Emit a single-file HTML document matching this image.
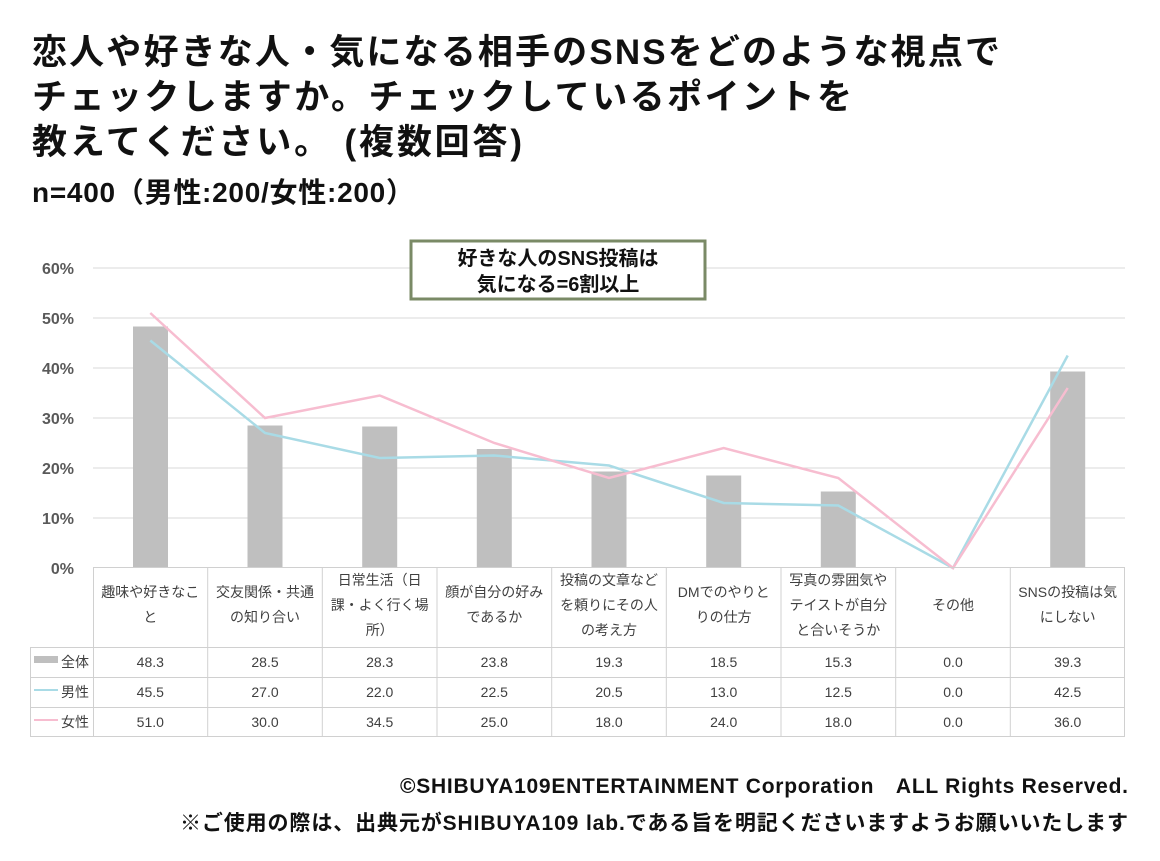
<!DOCTYPE html>
<html><head><meta charset="utf-8"><style>
html,body{margin:0;padding:0;background:#fff;}
body{width:1160px;height:856px;overflow:hidden;}
svg text{font-family:"Liberation Sans","Noto Sans CJK JP",sans-serif;}
</style></head><body>
<svg width="1160" height="856" viewBox="0 0 1160 856" xmlns="http://www.w3.org/2000/svg">
<g font-weight="bold" fill="#111" font-size="35">
<text x="32" y="64" textLength="968" lengthAdjust="spacing">恋人や好きな人・気になる相手のSNSをどのような視点で</text>
<text x="32" y="109" textLength="820" lengthAdjust="spacing">チェックしますか。チェックしているポイントを</text>
<text x="32" y="154" textLength="490" lengthAdjust="spacing">教えてください。 (複数回答)</text>
<text x="32" y="202" font-size="28" textLength="382" lengthAdjust="spacing">n=400（男性:200/女性:200）</text>
</g>
<g stroke="#d9d9d9" stroke-width="1">
<line x1="93" y1="268" x2="1125" y2="268"/>
<line x1="93" y1="318" x2="1125" y2="318"/>
<line x1="93" y1="368" x2="1125" y2="368"/>
<line x1="93" y1="418" x2="1125" y2="418"/>
<line x1="93" y1="468" x2="1125" y2="468"/>
<line x1="93" y1="518" x2="1125" y2="518"/>
</g>
<g font-size="16" fill="#595959" text-anchor="end" font-weight="bold">
<text x="74" y="274">60%</text><text x="74" y="324">50%</text><text x="74" y="374">40%</text>
<text x="74" y="424">30%</text><text x="74" y="474">20%</text><text x="74" y="524">10%</text><text x="74" y="574">0%</text>
</g>
<g fill="#bfbfbf">
<rect x="133" y="326.5" width="35" height="241.5"/>
<rect x="247.5" y="425.5" width="35" height="142.5"/>
<rect x="362.2" y="426.5" width="35" height="141.5"/>
<rect x="476.8" y="449" width="35" height="119"/>
<rect x="591.5" y="471.5" width="35" height="96.5"/>
<rect x="706.2" y="475.5" width="35" height="92.5"/>
<rect x="820.8" y="491.5" width="35" height="76.5"/>
<rect x="1050.2" y="371.5" width="35" height="196.5"/>
</g>
<polyline fill="none" stroke="#a9dbe6" stroke-width="2.5" points="150.3,340.5 265,433 379.7,458 494.3,455.5 609,465.5 723.7,503 838.3,505.5 953,568 1067.7,355.5"/>
<polyline fill="none" stroke="#f7bdd0" stroke-width="2.5" points="150.3,313 265,418 379.7,395.5 494.3,443 609,478 723.7,448 838.3,478 953,568 1067.7,388"/>
<rect x="411" y="241" width="294" height="58" fill="#fff" stroke="#7a8a66" stroke-width="3"/>
<g font-size="20" font-weight="bold" fill="#111" text-anchor="middle">
<text x="558" y="265">好きな人のSNS投稿は</text>
<text x="558" y="291">気になる=6割以上</text>
</g>
<g stroke="#d0d0d0" stroke-width="1" fill="none">
<line x1="93" y1="567.5" x2="1125" y2="567.5"/>
<line x1="30" y1="647.5" x2="1125" y2="647.5"/>
<line x1="30" y1="677.5" x2="1125" y2="677.5"/>
<line x1="30" y1="707.5" x2="1125" y2="707.5"/>
<line x1="30" y1="736.5" x2="1125" y2="736.5"/>
<line x1="30.5" y1="647" x2="30.5" y2="737"/>
<line x1="93.5" y1="567" x2="93.5" y2="737"/>
<line x1="207.7" y1="567" x2="207.7" y2="737"/>
<line x1="322.3" y1="567" x2="322.3" y2="737"/>
<line x1="437" y1="567" x2="437" y2="737"/>
<line x1="551.7" y1="567" x2="551.7" y2="737"/>
<line x1="666.3" y1="567" x2="666.3" y2="737"/>
<line x1="781" y1="567" x2="781" y2="737"/>
<line x1="895.7" y1="567" x2="895.7" y2="737"/>
<line x1="1010.3" y1="567" x2="1010.3" y2="737"/>
<line x1="1124.5" y1="567" x2="1124.5" y2="737"/>
</g>
<g font-size="14" fill="#404040" text-anchor="middle">
<text x="150.3" y="597">趣味や好きなこ</text><text x="150.3" y="622">と</text>
<text x="265" y="597">交友関係・共通</text><text x="265" y="622">の知り合い</text>
<text x="379.7" y="585">日常生活（日</text><text x="379.7" y="610">課・よく行く場</text><text x="379.7" y="635">所）</text>
<text x="494.3" y="597">顔が自分の好み</text><text x="494.3" y="622">であるか</text>
<text x="609" y="585">投稿の文章など</text><text x="609" y="610">を頼りにその人</text><text x="609" y="635">の考え方</text>
<text x="723.7" y="597">DMでのやりと</text><text x="723.7" y="622">りの仕方</text>
<text x="838.3" y="585">写真の雰囲気や</text><text x="838.3" y="610">テイストが自分</text><text x="838.3" y="635">と合いそうか</text>
<text x="953" y="610">その他</text>
<text x="1067.7" y="597">SNSの投稿は気</text><text x="1067.7" y="622">にしない</text>
</g>
<rect x="34" y="656" width="24" height="7" fill="#bfbfbf"/>
<line x1="34" y1="690" x2="58" y2="690" stroke="#a9dbe6" stroke-width="2"/>
<line x1="34" y1="720" x2="58" y2="720" stroke="#f7bdd0" stroke-width="2"/>
<g font-size="14" fill="#404040">
<text x="61" y="667">全体</text><text x="61" y="697">男性</text><text x="61" y="727">女性</text>
</g>
<g font-size="14" fill="#404040" text-anchor="middle">
<text x="150.3" y="667">48.3</text><text x="265" y="667">28.5</text><text x="379.7" y="667">28.3</text><text x="494.3" y="667">23.8</text><text x="609" y="667">19.3</text><text x="723.7" y="667">18.5</text><text x="838.3" y="667">15.3</text><text x="953" y="667">0.0</text><text x="1067.7" y="667">39.3</text>
<text x="150.3" y="697">45.5</text><text x="265" y="697">27.0</text><text x="379.7" y="697">22.0</text><text x="494.3" y="697">22.5</text><text x="609" y="697">20.5</text><text x="723.7" y="697">13.0</text><text x="838.3" y="697">12.5</text><text x="953" y="697">0.0</text><text x="1067.7" y="697">42.5</text>
<text x="150.3" y="727">51.0</text><text x="265" y="727">30.0</text><text x="379.7" y="727">34.5</text><text x="494.3" y="727">25.0</text><text x="609" y="727">18.0</text><text x="723.7" y="727">24.0</text><text x="838.3" y="727">18.0</text><text x="953" y="727">0.0</text><text x="1067.7" y="727">36.0</text>
</g>
<g font-size="21" font-weight="bold" fill="#111">
<text x="400" y="793" textLength="728" lengthAdjust="spacing">©SHIBUYA109ENTERTAINMENT Corporation　ALL Rights Reserved.</text>
<text x="180" y="830" textLength="948" lengthAdjust="spacing">※ご使用の際は、出典元がSHIBUYA109 lab.である旨を明記くださいますようお願いいたします</text>
</g>
</svg>
</body></html>
